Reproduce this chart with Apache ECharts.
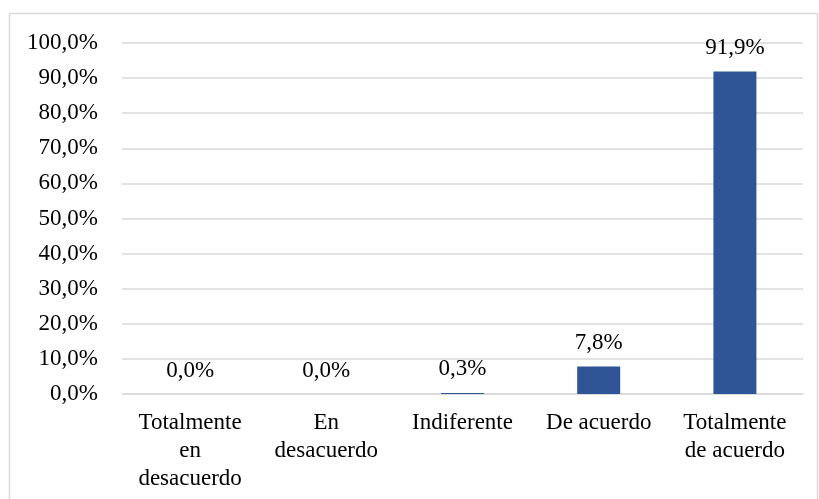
<!DOCTYPE html>
<html>
<head>
<meta charset="utf-8">
<script src="https://cdn.jsdelivr.net/npm/echarts@6/dist/echarts.min.js"></script>
<style>
  html, body { margin: 0; padding: 0; background: #fff; }
  #chart { width: 819px; height: 499px; }
</style>
</head>
<body>
<div id="chart"></div>
<script>
// Response categories and share of answers (%)
const categories = ['Totalmente\nen\ndesacuerdo', 'En\ndesacuerdo', 'Indiferente', 'De acuerdo', 'Totalmente\nde acuerdo'];
const percentages = [0.0, 0.0, 0.3, 7.8, 91.9];
const yTicks = [0, 10, 20, 30, 40, 50, 60, 70, 80, 90, 100];

const fmt = v => v.toFixed(1).replace('.', ',') + '%';
const FONT = '"Liberation Serif", "Times New Roman", serif';
const FS = 23;

const chart = echarts.init(document.getElementById('chart'), null, { renderer: 'canvas' });
chart.setOption({
  animation: false,
  backgroundColor: '#ffffff',
  graphic: [{
    type: 'rect',
    shape: { x: 9.5, y: 13.5, width: 808, height: 500 },
    style: { fill: 'none', stroke: '#d9d9d9', lineWidth: 1.5 },
    silent: true
  }],
  grid: { left: 122, right: 16, top: 43, bottom: 105 },
  xAxis: {
    type: 'category',
    data: categories,
    axisLine: { show: true, lineStyle: { color: '#d9d9d9', width: 1.5 } },
    axisTick: { show: false },
    axisLabel: {
      interval: 0,
      margin: 15,
      color: '#000',
      fontFamily: FONT,
      fontSize: FS,
      lineHeight: 28
    }
  },
  yAxis: {
    type: 'value',
    min: yTicks[0],
    max: yTicks[yTicks.length - 1],
    interval: 10,
    axisLine: { show: false },
    axisTick: { show: false },
    splitLine: { lineStyle: { color: '#d9d9d9', width: 1.5 } },
    axisLabel: {
      margin: 24,
      color: '#000',
      fontFamily: FONT,
      fontSize: FS,
      formatter: v => fmt(v)
    }
  },
  series: [{
    type: 'bar',
    data: percentages,
    barWidth: 43,
    itemStyle: { color: '#2f5597' },
    label: {
      show: true,
      position: 'top',
      distance: 12,
      color: '#000',
      fontFamily: FONT,
      fontSize: FS,
      formatter: p => fmt(p.value)
    }
  }]
});
</script>
</body>
</html>
